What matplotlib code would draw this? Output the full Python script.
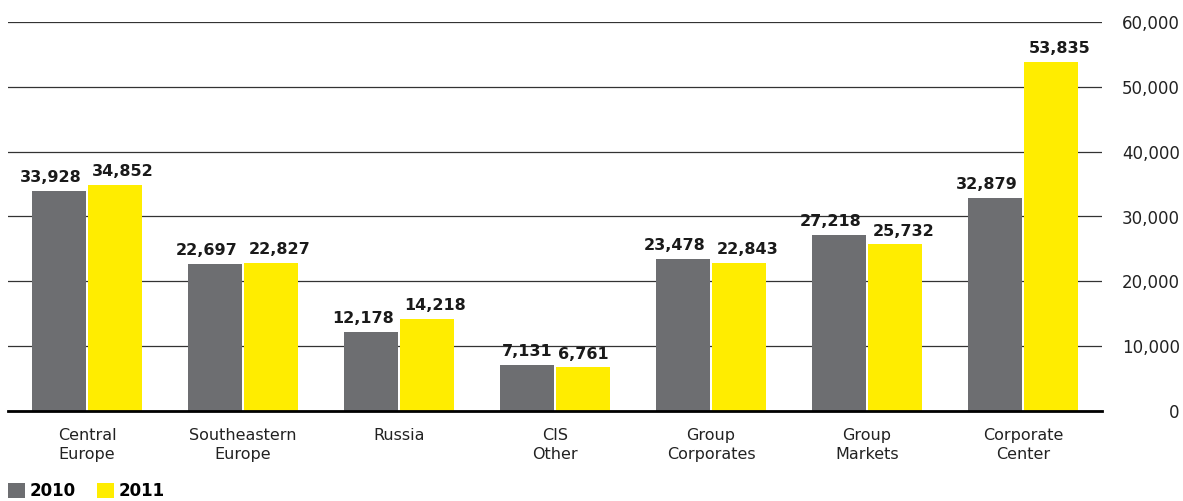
import numpy as np
import matplotlib.pyplot as plt
from matplotlib.ticker import FuncFormatter

# data
categories = ["Central\nEurope", "Southeastern\nEurope", "Russia", "CIS\nOther",
              "Group\nCorporates", "Group\nMarkets", "Corporate\nCenter"]
values_2010 = [33928, 22697, 12178, 7131, 23478, 27218, 32879]
values_2011 = [34852, 22827, 14218, 6761, 22843, 25732, 53835]
years = ["2010", "2011"]

gray = "#6d6e71"
yellow = "#ffed00"

fig = plt.figure(figsize=(11.83, 5.01), dpi=100)
ax = fig.add_axes([8 / 1183, 90 / 501, 1094 / 1183, 389 / 501])

x = np.arange(len(categories))
w = 0.346
off = 0.179
b1 = ax.bar(x - off, values_2010, w, color=gray, label=years[0], zorder=3)
b2 = ax.bar(x + off, values_2011, w, color=yellow, label=years[1], zorder=3)

# value labels, pushed apart a little when they are wide
for bars, side in ((b1, -1), (b2, 1)):
    for r in bars:
        v = r.get_height()
        dx = 6 * side if v >= 10000 else 0
        ax.annotate(f"{v:,.0f}", (r.get_x() + r.get_width() / 2, v),
                    xytext=(dx, 4), textcoords="offset points",
                    ha="center", va="bottom", fontsize=11.5, fontweight="bold",
                    color="#1a1a1a")

ax.set_xlim(-0.506, 6.506)
ax.set_ylim(0, 60000)
ax.set_yticks(range(0, 60001, 10000))
ax.yaxis.tick_right()
ax.yaxis.set_major_formatter(FuncFormatter(lambda v, p: f"{v:,.0f}"))
ax.tick_params(axis="y", length=0, pad=56, labelsize=12, labelcolor="#222222")
for lab in ax.get_yticklabels():
    lab.set_horizontalalignment("right")

ax.set_xticks(x)
ax.set_xticklabels(categories, fontsize=11.5, color="#222222", linespacing=1.4)
ax.tick_params(axis="x", length=0, pad=12)

ax.grid(axis="y", color="#333333", linewidth=0.9, zorder=0)
for s in ["top", "left", "right"]:
    ax.spines[s].set_visible(False)
ax.spines["bottom"].set_linewidth(2)
ax.spines["bottom"].set_zorder(4)

fig.legend(handles=[b1, b2], labels=years, loc="lower left",
           bbox_to_anchor=(7 / 1183, 0.0), ncol=2, frameon=False,
           handlelength=1.0, handleheight=1.0, handletextpad=0.3,
           columnspacing=1.3, prop={"size": 12, "weight": "bold"},
           borderaxespad=0, borderpad=0.05)

fig.savefig("out.png", dpi=100)
